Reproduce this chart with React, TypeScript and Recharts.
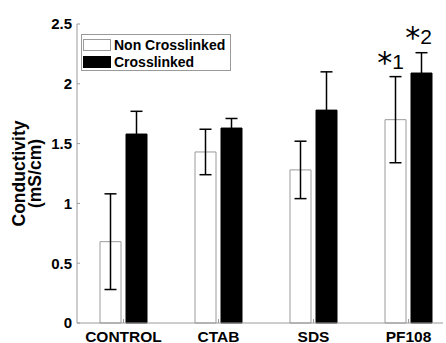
import { BarChart, Bar, XAxis, YAxis, ErrorBar, LabelList } from "recharts";

// values
const categories = ["CONTROL", "CTAB", "SDS", "PF108"];
const nonCrosslinked = [0.68, 1.43, 1.28, 1.7];
const nonCrosslinkedErr = [0.4, 0.19, 0.24, 0.36];
const crosslinked = [1.58, 1.63, 1.78, 2.09];
const crosslinkedErr = [0.19, 0.08, 0.32, 0.17];
const nonNotes = ["", "", "", "1"];
const crossNotes = ["", "", "", "2"];
const yTicks = [0, 0.5, 1, 1.5, 2, 2.5];
const seriesNames = ["Non Crosslinked", "Crosslinked"];

const FONT = "'Liberation Sans', Arial, sans-serif";
const AXIS_GRAY = "#9a9a9a";

const data = categories.map((name, i) => ({
  name,
  non: nonCrosslinked[i],
  nonErr: nonCrosslinkedErr[i],
  cross: crosslinked[i],
  crossErr: crosslinkedErr[i],
  nonNote: nonNotes[i],
  crossNote: crossNotes[i],
}));

const YTick = (props: any) => {
  const { x, y, payload } = props;
  return (
    <g>
      <line x1={x + 5} x2={x + 8} y1={y} y2={y} stroke={AXIS_GRAY} />
      <text x={x} y={y} dy="0.36em" textAnchor="end" fontFamily={FONT} fontWeight="bold" fontSize={15} fill="#000">
        {payload.value}
      </text>
    </g>
  );
};

const XTick = (props: any) => {
  const { x, y, payload } = props;
  return (
    <g>
      <line x1={x} x2={x} y1={y} y2={y - 4} stroke={AXIS_GRAY} />
      <text x={x} y={y + 18.5} textAnchor="middle" fontFamily={FONT} fontWeight="bold" fontSize={15.5} fill="#000">
        {payload.value}
      </text>
    </g>
  );
};

const YLabel = (props: any) => {
  const { viewBox } = props;
  const cy = viewBox.y + viewBox.height / 2;
  const t = (cx: number, s: string) => (
    <text
      x={cx}
      y={cy}
      transform={`rotate(-90 ${cx} ${cy})`}
      textAnchor="middle"
      dominantBaseline="central"
      fontFamily={FONT}
      fontWeight="bold"
      fontSize={17.5}
      fill="#000"
    >
      {s}
    </text>
  );
  return (
    <g>
      {t(viewBox.x + 18.5, "Conductivity")}
      {t(viewBox.x + 34.5, "(mS/cm)")}
    </g>
  );
};

// star note drawn just above the top of the error bar
const makeNote = (values: number[], errs: number[], dx: number, gap: number) => (props: any) => {
  const { x, y, width, height, value, index } = props;
  if (!value) return null;
  const perUnit = height / values[index];
  const top = y - errs[index] * perUnit;
  return (
    <text x={x + width / 2 + dx} y={top - gap} textAnchor="middle" fill="#000">
      <tspan fontFamily="'DejaVu Sans', sans-serif" fontSize={30} dy={4}>
        *
      </tspan>
      <tspan fontFamily={FONT} fontSize={21} dy={-4}>
        {value}
      </tspan>
    </text>
  );
};

const LegendBox = () => (
  <div
    style={{
      position: "absolute",
      left: 81,
      top: 34,
      width: 148,
      height: 35,
      border: `1px solid ${AXIS_GRAY}`,
      background: "#fff",
      fontFamily: FONT,
      fontWeight: "bold",
      fontSize: 14,
      color: "#000",
    }}
  >
    {seriesNames.map((label, i) => (
      <div key={label} style={{ position: "absolute", left: 1, top: 4 + i * 17, display: "flex", alignItems: "center" }}>
        <span
          style={{
            display: "inline-block",
            width: 26,
            height: 10,
            background: i === 0 ? "#fff" : "#000",
            border: `1px solid ${i === 0 ? AXIS_GRAY : "#000"}`,
            marginRight: 3,
          }}
        />
        <span style={{ lineHeight: "12px" }}>{label}</span>
      </div>
    ))}
  </div>
);

export default function App() {
  return (
    <div style={{ position: "absolute", left: 0, top: 0, width: 446, height: 343, background: "#fff" }}>
      <BarChart
        width={446}
        height={343}
        data={data}
        margin={{ top: 24, right: 3, bottom: 0, left: 0 }}
        barSize={21}
        barGap={5}
      >
        <XAxis
          dataKey="name"
          height={20}
          padding={{ left: -1, right: -13 }}
          axisLine={{ stroke: AXIS_GRAY }}
          tickLine={false}
          tickSize={0}
          tickMargin={0}
          tick={<XTick />}
          interval={0}
        />
        <YAxis
          width={77}
          domain={[0, 2.5]}
          ticks={yTicks}
          axisLine={{ stroke: AXIS_GRAY }}
          tickLine={false}
          tickSize={0}
          tickMargin={5}
          tick={<YTick />}
          label={<YLabel />}
        />
        <Bar dataKey="non" name={seriesNames[0]} fill="#fff" stroke={AXIS_GRAY} strokeWidth={1} isAnimationActive={false}>
          <ErrorBar dataKey="nonErr" width={6} stroke="#000" strokeWidth={1.5} />
          <LabelList dataKey="nonNote" content={makeNote(nonCrosslinked, nonCrosslinkedErr, -5, 7.5)} />
        </Bar>
        <Bar dataKey="cross" name={seriesNames[1]} fill="#000" stroke="#000" strokeWidth={1} isAnimationActive={false}>
          <ErrorBar dataKey="crossErr" width={6} stroke="#000" strokeWidth={1.5} />
          <LabelList dataKey="crossNote" content={makeNote(crosslinked, crosslinkedErr, -3, 9)} />
        </Bar>
      </BarChart>
      <LegendBox />
    </div>
  );
}
